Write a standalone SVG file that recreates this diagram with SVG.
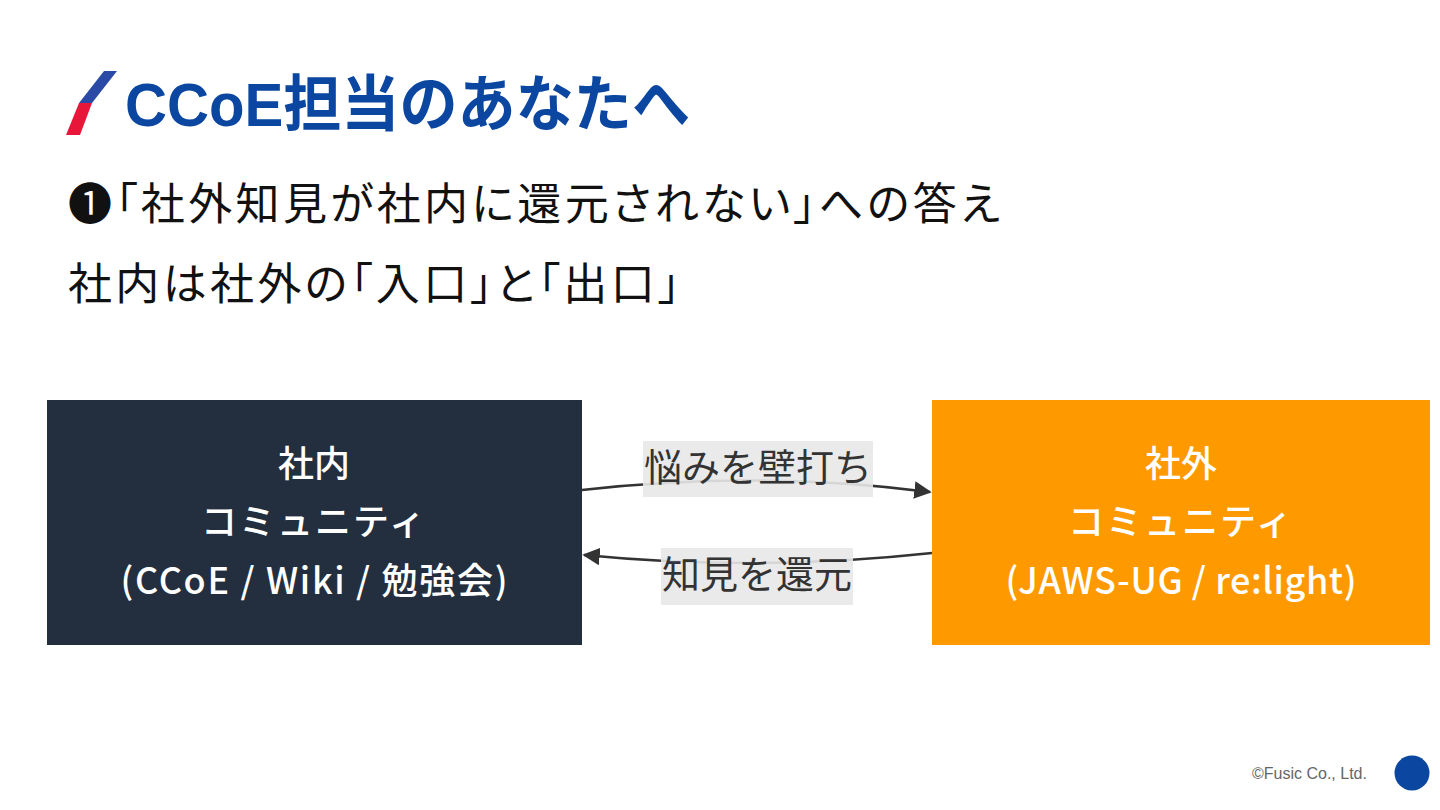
<svg xmlns="http://www.w3.org/2000/svg" width="1440" height="810" viewBox="0 0 1440 810">
<style>
.title{font-family:"Liberation Sans","Noto Sans CJK JP",sans-serif;font-weight:bold;font-size:61px;fill:#0b47a1}
.sub{font-family:"Noto Sans CJK JP",sans-serif;font-size:44px;fill:#111;font-feature-settings:"palt"}
.nt{font-family:"Noto Sans CJK JP",sans-serif;font-size:36px;font-weight:500;fill:#fff;text-anchor:middle}
.lt{font-family:"Noto Sans CJK JP",sans-serif;font-size:38px;fill:#333;text-anchor:middle}
.lb{fill:#e8e8e8;opacity:0.9}
.edge{fill:none;stroke:#333;stroke-width:2.5}
.foot{font-family:"Liberation Sans",sans-serif;font-size:16px;fill:#666}
</style>
<defs>
<marker id="arr" viewBox="0 0 10 10" refX="9" refY="5" markerWidth="7" markerHeight="7" orient="auto" markerUnits="strokeWidth">
<path d="M0,0 L10,5 L0,10 z" fill="#333"/>
</marker>
</defs>
<rect width="1440" height="810" fill="#fff"/>
<g id="header">
<polygon points="104,71 117,71 92,103 79,103" fill="#2a4aa5"/>
<polygon points="79,103 92,103 80,135 66,135" fill="#e8173a"/>
<text class="title" x="125" y="126" textLength="565" lengthAdjust="spacingAndGlyphs">CCoE担当のあなたへ</text>
<text class="sub" x="68" y="220" textLength="932">❶「社外知見が社内に還元されない」への答え</text>
<text class="sub" x="68" y="300" textLength="612">社内は社外の「入口」と「出口」</text>
</g>
<g id="connectors">
<path class="edge" d="M582,490 Q757,470 930,492" marker-end="url(#arr)"/>
<path class="edge" d="M932,553 Q757,572 584,555" marker-end="url(#arr)"/>
<g id="label-1">
<rect class="lb" x="643" y="441" width="230" height="56"/>
<text class="lt" x="758" y="481">悩みを壁打ち</text>
</g>
<g id="label-2">
<rect class="lb" x="661" y="548" width="192" height="57"/>
<text class="lt" x="757" y="588">知見を還元</text>
</g>
</g>
<g id="node-inside">
<rect x="47" y="400" width="535" height="245" fill="#232f3e"/>
<text class="nt" x="314" y="477">社内</text>
<text class="nt" x="314" y="535" letter-spacing="2">コミュニティ</text>
<text class="nt" x="314" y="594" textLength="387">(CCoE / Wiki / 勉強会)</text>
</g>
<g id="node-outside">
<rect x="932" y="400" width="498" height="245" fill="#ff9900"/>
<text class="nt" x="1181" y="477">社外</text>
<text class="nt" x="1181" y="535" letter-spacing="2">コミュニティ</text>
<text class="nt" x="1181" y="594" textLength="351">(JAWS-UG / re:light)</text>
</g>
<g id="footer">
<text class="foot" x="1252" y="779">©Fusic Co., Ltd.</text>
<circle cx="1412" cy="773" r="17.5" fill="#0b47a1"/>
</g>
</svg>
